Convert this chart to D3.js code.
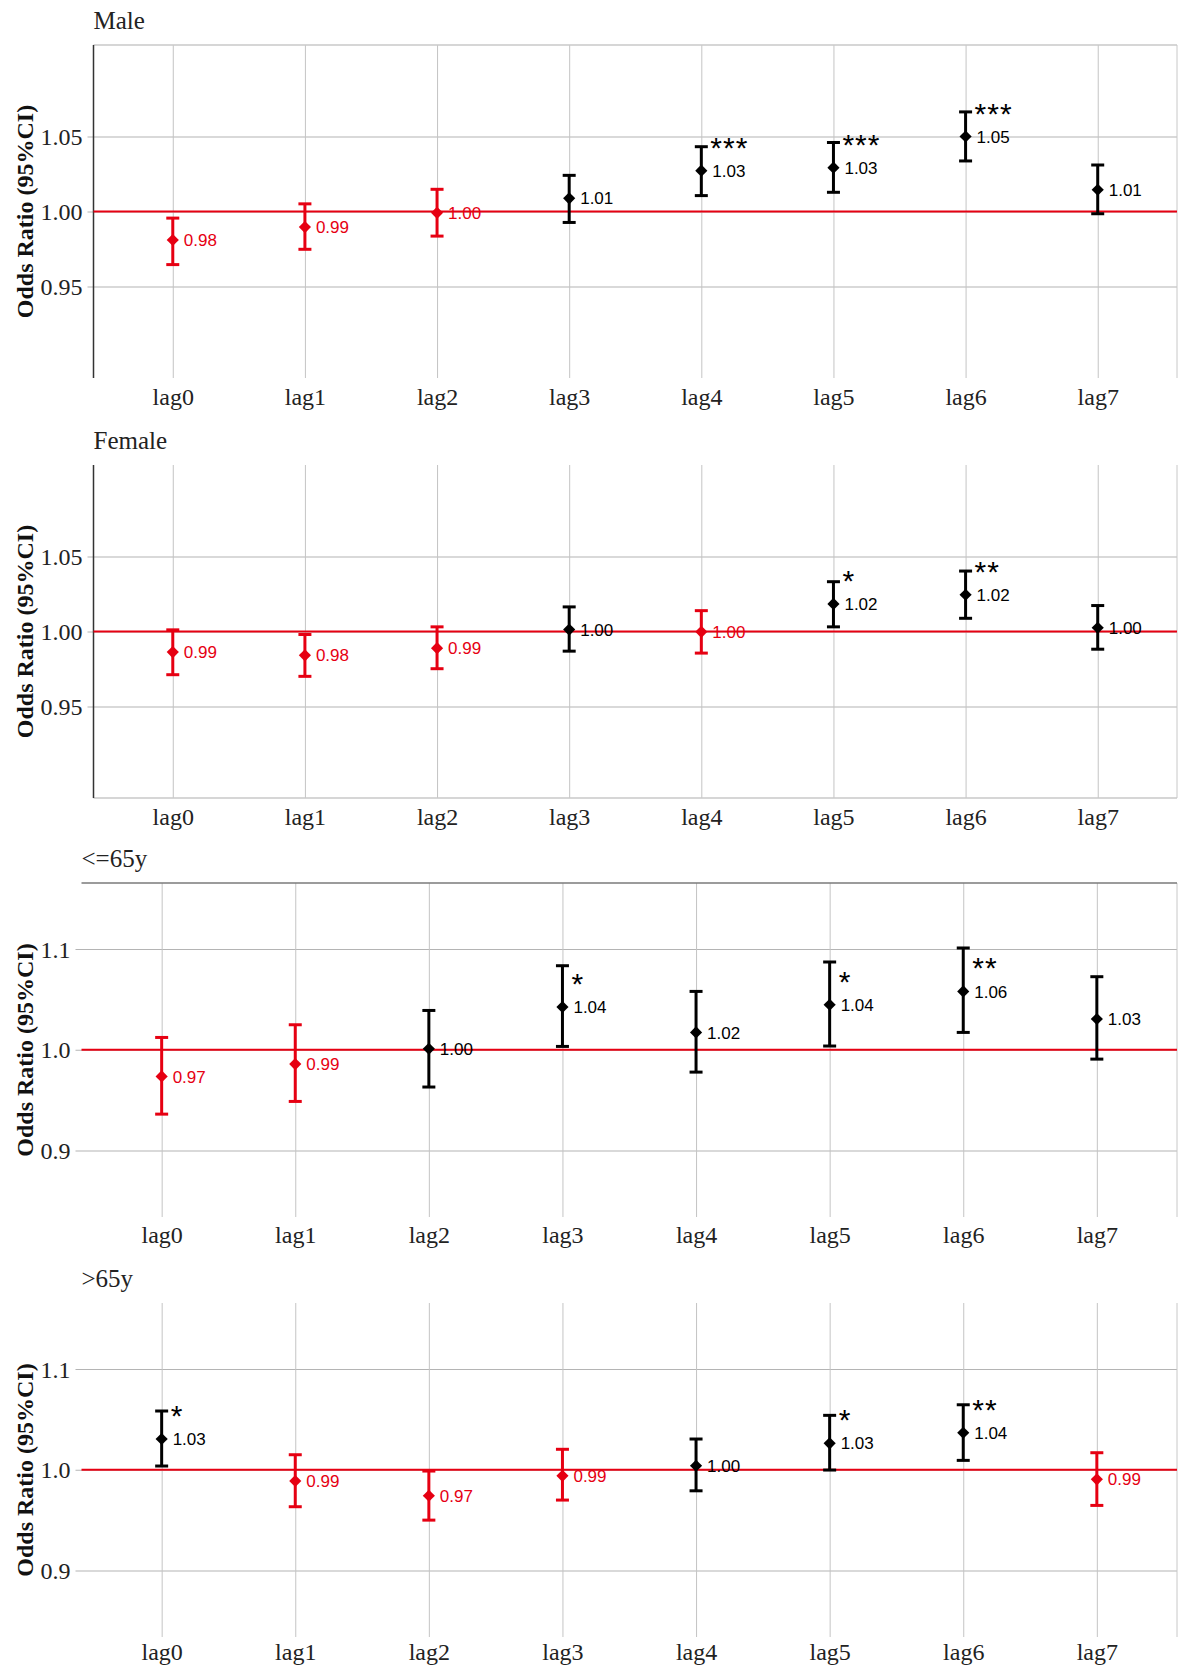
<!DOCTYPE html>
<html>
<head>
<meta charset="utf-8">
<script src="https://cdn.jsdelivr.net/npm/d3@7"></script>
<style>
  body { margin: 0; background: #fff; }
  svg { display: block; }
</style>
</head>
<body>
<div id="chart"></div>
<script>
// lags on the x axis
const lags = ['lag0', 'lag1', 'lag2', 'lag3', 'lag4', 'lag5', 'lag6', 'lag7'];
const panelTitles = ['Male', 'Female', '<=65y', '>65y'];

// y tick values
const sexTicks = [0.95, 1.00, 1.05];
const ageTicks = [0.9, 1.0, 1.1];

// Male
const maleOR = [0.981, 0.9896, 0.9991, 1.0088, 1.0272, 1.0292, 1.050, 1.0145];
const maleLow = [0.9646, 0.9748, 0.9836, 0.9927, 1.0106, 1.0128, 1.0337, 0.9985];
const maleHigh = [0.9956, 1.0051, 1.0148, 1.0241, 1.0432, 1.046, 1.0664, 1.031];
const maleStars = ['', '', '', '', '***', '***', '***', ''];

// Female
const femaleOR = [0.9863, 0.9841, 0.9889, 1.0013, 0.9998, 1.0184, 1.0245, 1.0025];
const femaleLow = [0.9712, 0.9701, 0.9752, 0.9869, 0.9856, 1.0031, 1.0088, 0.9882];
const femaleHigh = [1.0011, 0.998, 1.0031, 1.0164, 1.0139, 1.0332, 1.0403, 1.0173];
const femaleStars = ['', '', '', '', '', '*', '**', ''];

// <=65y
const youngOR = [0.9735, 0.9858, 1.001, 1.0424, 1.0172, 1.0447, 1.0579, 1.0305];
const youngLow = [0.9361, 0.9487, 0.963, 1.0033, 0.9778, 1.0037, 1.0172, 0.9907];
const youngHigh = [1.0122, 1.0248, 1.039, 1.0834, 1.0579, 1.0871, 1.101, 1.0725];
const youngStars = ['', '', '', '*', '', '*', '**', ''];

// >65y
const oldOR = [1.0305, 0.9888, 0.9742, 0.994, 1.004, 1.0262, 1.0367, 0.9905];
const oldLow = [1.0037, 0.9633, 0.95, 0.9699, 0.9791, 0.9997, 1.0093, 0.9646];
const oldHigh = [1.0583, 1.0149, 0.9987, 1.0203, 1.0305, 1.054, 1.0645, 1.0169];
const oldStars = ['*', '', '', '', '', '*', '**', ''];

const WIDTH = 1181;
const HEIGHT = 1667;
const RED = '#e60012';
const SERIF = '"Liberation Serif", "Times New Roman", serif';
const SANS = '"Liberation Sans", Arial, sans-serif';

const svg = d3.select('#chart').append('svg')
  .attr('width', WIDTH)
  .attr('height', HEIGHT)
  .style('background', '#fff');

// panel layout (pixel boxes), data gets attached below
const panels = [
  {title: panelTitles[0], or: maleOR, low: maleLow, high: maleHigh, stars: maleStars,
    top: 45, bottom: 378, left: 93.5, right: 1177, domain: [0.889, 1.111], ticks: sexTicks, fmt: '.2f',
    leftAxis: true, topLine: '#c8c8c8', bottomLine: null, labelGap: 27},
  {title: panelTitles[1], or: femaleOR, low: femaleLow, high: femaleHigh, stars: femaleStars,
    top: 465, bottom: 798, left: 93.5, right: 1177, domain: [0.889, 1.111], ticks: sexTicks, fmt: '.2f',
    leftAxis: true, topLine: null, bottomLine: '#c8c8c8', labelGap: 27},
  {title: panelTitles[2], or: youngOR, low: youngLow, high: youngHigh, stars: youngStars,
    top: 883, bottom: 1217, left: 81.5, right: 1177, domain: [0.834, 1.1655], ticks: ageTicks, fmt: '.1f',
    leftAxis: false, topLine: '#7a7a7a', bottomLine: null, labelGap: 26},
  {title: panelTitles[3], or: oldOR, low: oldLow, high: oldHigh, stars: oldStars,
    top: 1303, bottom: 1637, left: 81.5, right: 1177, domain: [0.834, 1.1655], ticks: ageTicks, fmt: '.1f',
    leftAxis: false, topLine: null, bottomLine: null, labelGap: 23},
];

function drawPanel(p) {
  const g = svg.append('g');

  const x = d3.scalePoint()
    .domain(lags)
    .range([p.left, p.right])
    .padding(0.6);

  const y = d3.scaleLinear()
    .domain(p.domain)
    .range([p.bottom, p.top]);

  // horizontal grid + y tick labels
  const yAxis = d3.axisLeft(y)
    .tickValues(p.ticks)
    .tickFormat(d3.format(p.fmt))
    .tickSize(0);

  const yg = g.append('g')
    .attr('transform', 'translate(' + (p.left - 6) + ',0)')
    .call(yAxis);
  yg.select('.domain').remove();
  yg.selectAll('.tick line')
    .attr('stroke', '#b4b4b4')
    .attr('stroke-width', 1.2)
    .attr('x1', 0)
    .attr('x2', p.right - p.left + 6);
  yg.selectAll('.tick text')
    .attr('x', -5)
    .attr('dy', '0.34em')
    .attr('fill', '#222')
    .style('font-family', SERIF)
    .style('font-size', '24px');

  // vertical grid + x tick labels
  const xAxis = d3.axisBottom(x)
    .tickSize(-(p.bottom - p.top))
    .tickPadding(0);

  const xg = g.append('g')
    .attr('transform', 'translate(0,' + p.bottom + ')')
    .call(xAxis);
  xg.select('.domain').remove();
  xg.selectAll('.tick line')
    .attr('stroke', '#c4c4c4')
    .attr('stroke-width', 1);
  xg.selectAll('.tick text')
    .attr('y', p.labelGap)
    .attr('dy', 0)
    .attr('fill', '#222')
    .style('font-family', SERIF)
    .style('font-size', '24px');

  // frame pieces
  g.append('line')
    .attr('x1', p.right).attr('x2', p.right)
    .attr('y1', p.top).attr('y2', p.bottom)
    .attr('stroke', '#c8c8c8');
  if (p.topLine) {
    g.append('line')
      .attr('x1', p.left).attr('x2', p.right)
      .attr('y1', p.top).attr('y2', p.top)
      .attr('stroke', p.topLine)
      .attr('stroke-width', 1.5);
  }
  if (p.bottomLine) {
    g.append('line')
      .attr('x1', p.left).attr('x2', p.right)
      .attr('y1', p.bottom).attr('y2', p.bottom)
      .attr('stroke', p.bottomLine)
      .attr('stroke-width', 1.5);
  }
  if (p.leftAxis) {
    g.append('line')
      .attr('x1', p.left).attr('x2', p.left)
      .attr('y1', p.top).attr('y2', p.bottom)
      .attr('stroke', '#333')
      .attr('stroke-width', 1.5);
  }

  // reference line at OR = 1
  g.append('line')
    .attr('x1', p.left).attr('x2', p.right)
    .attr('y1', y(1)).attr('y2', y(1))
    .attr('stroke', RED)
    .attr('stroke-width', 2);

  // title
  g.append('text')
    .attr('x', p.left)
    .attr('y', p.top - 16)
    .attr('fill', '#222')
    .style('font-family', SERIF)
    .style('font-size', '25px')
    .text(p.title);

  // y axis title
  g.append('text')
    .attr('transform', 'translate(33,' + ((p.top + p.bottom) / 2) + ') rotate(-90)')
    .attr('text-anchor', 'middle')
    .attr('fill', '#111')
    .style('font-family', SERIF)
    .style('font-weight', 'bold')
    .style('font-size', '24px')
    .text('Odds Ratio (95%CI)');

  const rows = lags.map((lag, i) => {
    return {lag: lag, or: p.or[i], low: p.low[i], high: p.high[i], star: p.stars[i]};
  });
  const colour = (d) => d.or < 1 ? RED : '#000';

  const pts = g.selectAll('.pt')
    .data(rows)
    .enter().append('g')
    .attr('class', 'pt');

  // error bars
  pts.append('line')
    .attr('x1', (d) => x(d.lag)).attr('x2', (d) => x(d.lag))
    .attr('y1', (d) => y(d.low)).attr('y2', (d) => y(d.high))
    .attr('stroke', colour)
    .attr('stroke-width', 3);
  pts.append('line')
    .attr('x1', (d) => x(d.lag) - 6.5).attr('x2', (d) => x(d.lag) + 6.5)
    .attr('y1', (d) => y(d.low)).attr('y2', (d) => y(d.low))
    .attr('stroke', colour)
    .attr('stroke-width', 3);
  pts.append('line')
    .attr('x1', (d) => x(d.lag) - 6.5).attr('x2', (d) => x(d.lag) + 6.5)
    .attr('y1', (d) => y(d.high)).attr('y2', (d) => y(d.high))
    .attr('stroke', colour)
    .attr('stroke-width', 3);

  // diamond markers
  pts.append('path')
    .attr('d', d3.symbol(d3.symbolSquare, 74)())
    .attr('transform', (d) => 'translate(' + x(d.lag) + ',' + y(d.or) + ') rotate(45)')
    .attr('fill', colour);

  // value labels
  pts.append('text')
    .attr('x', (d) => x(d.lag) + 11)
    .attr('y', (d) => y(d.or))
    .attr('dy', '0.36em')
    .attr('fill', colour)
    .style('font-family', SANS)
    .style('font-size', '17px')
    .text((d) => d3.format('.2f')(d.or));

  // significance stars
  pts.filter((d) => d.star !== '')
    .append('text')
    .attr('x', (d) => x(d.lag) + 9)
    .attr('y', (d) => y(d.or) - 13)
    .attr('fill', '#000')
    .style('font-family', SANS)
    .style('font-size', '30px')
    .style('letter-spacing', '1px')
    .text((d) => d.star);
}

panels.forEach(drawPanel);
</script>
</body>
</html>
